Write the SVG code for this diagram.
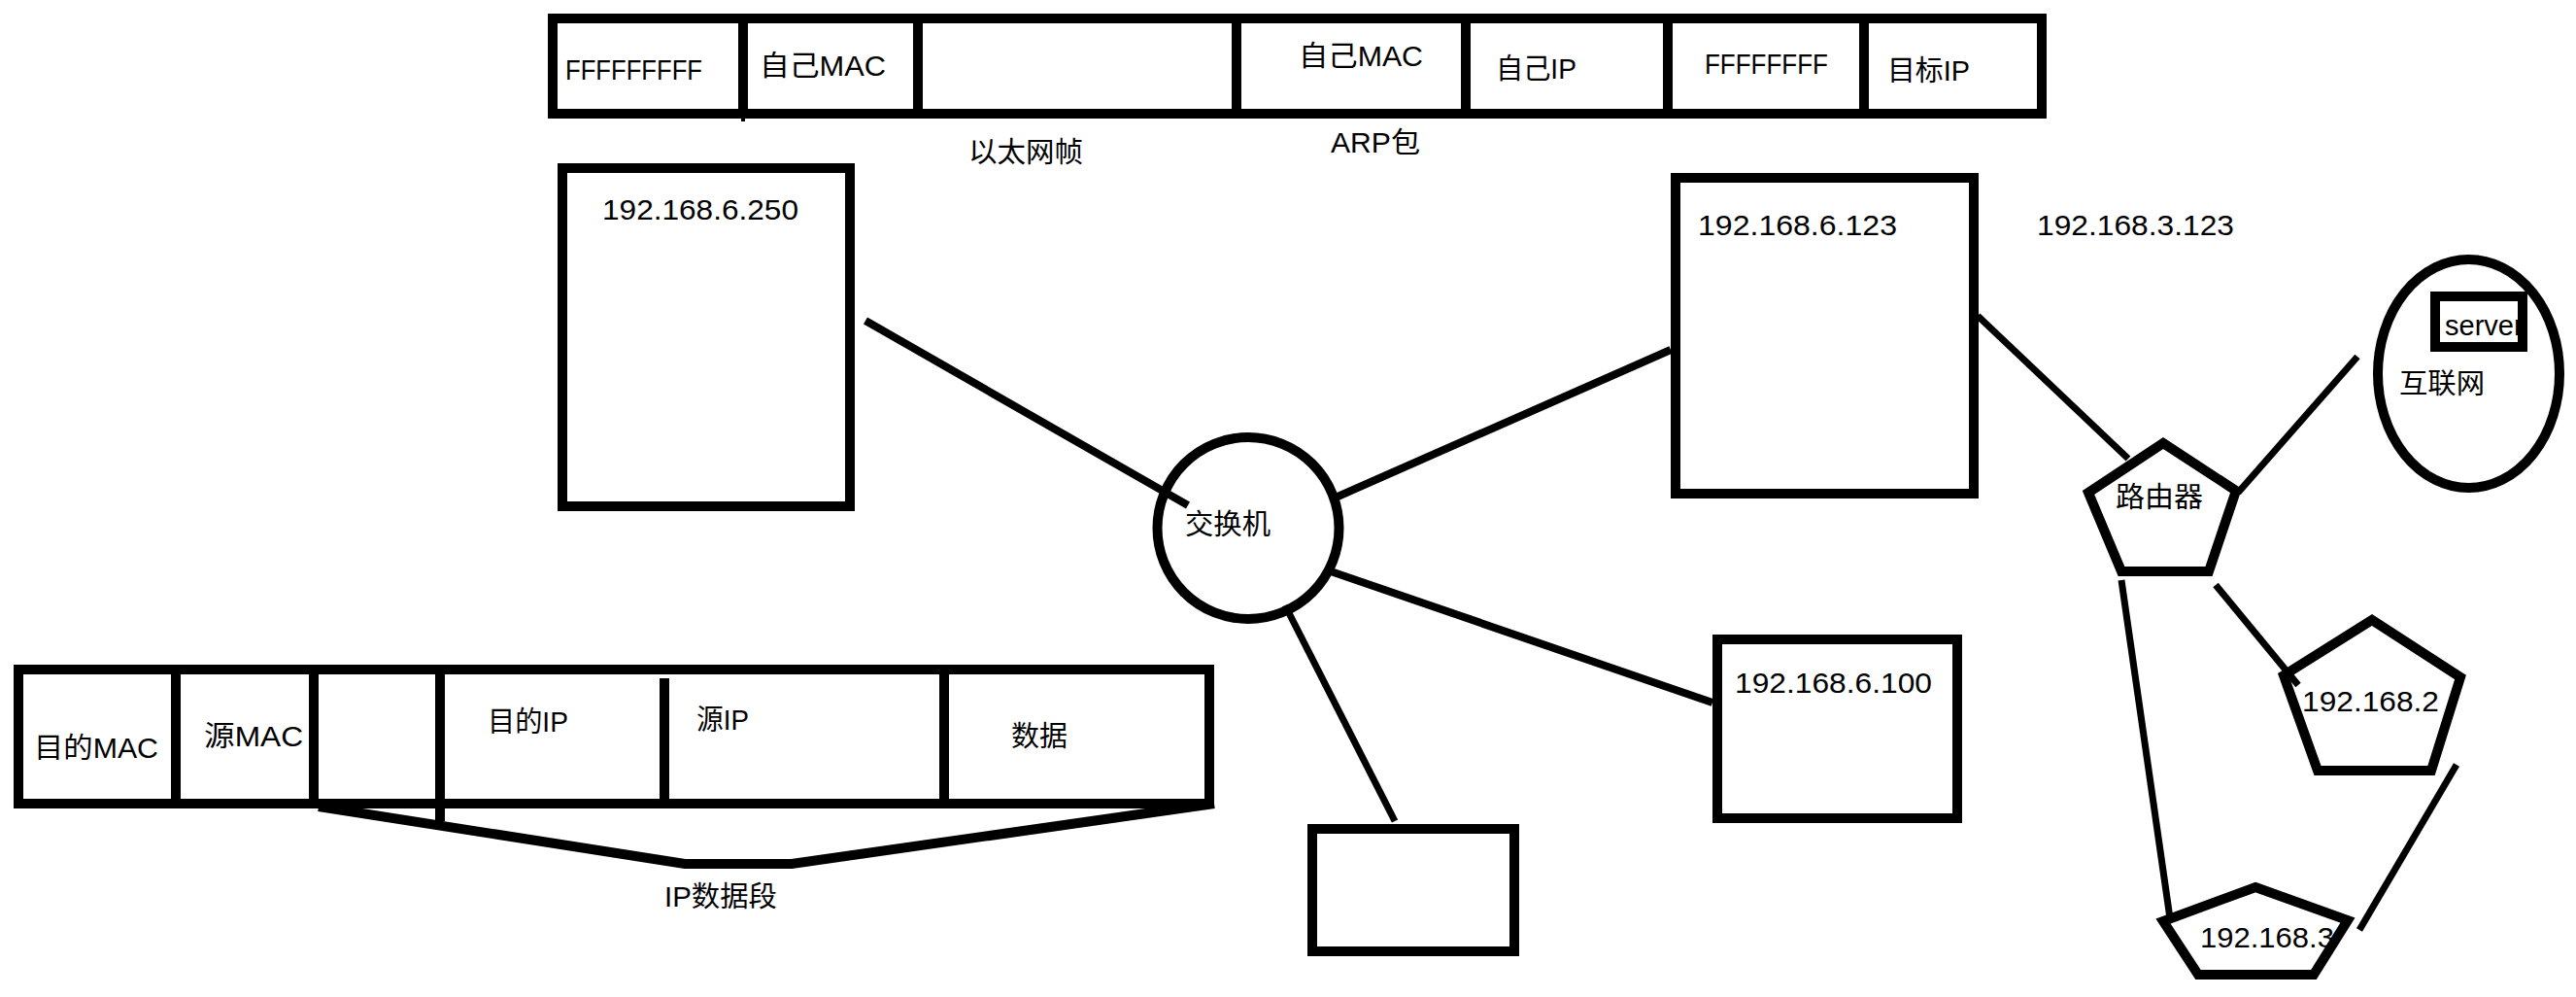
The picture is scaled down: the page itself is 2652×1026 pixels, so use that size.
<svg xmlns="http://www.w3.org/2000/svg" width="2652" height="1026" viewBox="0 0 2652 1026">
  <style>
    .box { fill: none; stroke: #000; stroke-width: 10; }
    .div { stroke: #000; stroke-width: 10; }
    .wire { fill: none; stroke: #000; stroke-width: 8; stroke-linecap: butt; }
    .thin { fill: none; stroke: #000; stroke-width: 7; stroke-linecap: butt; }
    .shape { fill: none; stroke: #000; stroke-width: 10; stroke-linejoin: miter; }
    text { font-family: "Liberation Sans", "Noto Sans CJK SC", sans-serif; font-size: 29px; fill: #000; }
    .num { font-size: 30px; }
  </style>
  <rect width="2652" height="1026" fill="#fff"/>

  <!-- Ethernet frame carrying an ARP packet -->
  <g id="arp-frame">
    <rect class="box" x="569" y="19" width="1533" height="98"/>
    <line class="div" x1="765" y1="14" x2="765" y2="122"/>
    <line x1="765" y1="118" x2="765" y2="125" stroke="#000" stroke-width="4"/>
    <line class="div" x1="945" y1="14" x2="945" y2="122"/>
    <line class="div" x1="1273" y1="14" x2="1273" y2="122"/>
    <line class="div" x1="1509" y1="14" x2="1509" y2="122"/>
    <line class="div" x1="1717" y1="14" x2="1717" y2="122"/>
    <line class="div" x1="1919" y1="14" x2="1919" y2="122"/>
    <text x="582" y="82" textLength="141" lengthAdjust="spacingAndGlyphs">FFFFFFFFF</text>
    <text x="782" y="78" textLength="130" lengthAdjust="spacingAndGlyphs">自己MAC</text>
    <text x="1337" y="68" textLength="128" lengthAdjust="spacingAndGlyphs">自己MAC</text>
    <text x="1540" y="81" textLength="83" lengthAdjust="spacingAndGlyphs">自己IP</text>
    <text x="1755" y="76" textLength="127" lengthAdjust="spacingAndGlyphs">FFFFFFFF</text>
    <text x="1943" y="83" textLength="85" lengthAdjust="spacingAndGlyphs">目标IP</text>
    <text x="997" y="167" textLength="118" lengthAdjust="spacingAndGlyphs">以太网帧</text>
    <text x="1370" y="157" textLength="92" lengthAdjust="spacingAndGlyphs">ARP包</text>
  </g>

  <!-- Ethernet frame with IP datagram -->
  <g id="ip-frame">
    <rect class="box" x="19" y="689" width="1226" height="138"/>
    <line class="div" x1="181" y1="684" x2="181" y2="832"/>
    <line class="div" x1="323" y1="684" x2="323" y2="832"/>
    <line class="div" x1="453" y1="684" x2="453" y2="845"/>
    <line class="div" x1="684" y1="698" x2="684" y2="832" stroke-width="8"/>
    <line class="div" x1="972" y1="684" x2="972" y2="832" stroke-width="9"/>
    <polyline class="shape" points="328,830 705,889 815,889 1250,827"/>
    <text x="35" y="780" textLength="128" lengthAdjust="spacingAndGlyphs">目的MAC</text>
    <text x="210" y="768" textLength="102" lengthAdjust="spacingAndGlyphs">源MAC</text>
    <text x="502" y="753" textLength="83" lengthAdjust="spacingAndGlyphs">目的IP</text>
    <text x="717" y="751" textLength="54" lengthAdjust="spacingAndGlyphs">源IP</text>
    <text x="1041" y="768" textLength="58" lengthAdjust="spacingAndGlyphs">数据</text>
    <text x="684" y="933" textLength="116" lengthAdjust="spacingAndGlyphs">IP数据段</text>
  </g>

  <!-- connectors -->
  <g id="connectors">
    <line class="wire" x1="891" y1="330" x2="1223" y2="520"/>
    <line class="wire" x1="1375" y1="512" x2="1720" y2="360"/>
    <line class="wire" x1="1370" y1="588" x2="1763" y2="723"/>
    <line class="thin" x1="1323" y1="623" x2="1436" y2="845"/>
    <line class="thin" x1="2036" y1="325" x2="2191" y2="472"/>
    <line class="thin" x1="2304" y1="507" x2="2427" y2="367"/>
    <line class="thin" x1="2184" y1="597" x2="2234" y2="945"/>
    <line class="thin" x1="2281" y1="602" x2="2366" y2="705"/>
    <line class="thin" x1="2529" y1="787" x2="2429" y2="957"/>
  </g>

  <g id="host-250">
    <rect class="box" x="579" y="173" width="296" height="348"/>
    <text class="num" x="620" y="226" textLength="202" lengthAdjust="spacingAndGlyphs">192.168.6.250</text>
  </g>

  <g id="switch">
    <circle class="shape" cx="1285" cy="543.5" r="93.5"/>
    <text x="1220" y="550" textLength="88" lengthAdjust="spacingAndGlyphs">交换机</text>
  </g>

  <g id="host-123">
    <rect class="box" x="1725" y="183" width="307" height="325"/>
    <text class="num" x="1748" y="242" textLength="205" lengthAdjust="spacingAndGlyphs">192.168.6.123</text>
  </g>

  <g id="label-3-123">
    <text class="num" x="2097" y="242" textLength="203" lengthAdjust="spacingAndGlyphs">192.168.3.123</text>
  </g>

  <g id="host-100">
    <rect class="box" x="1768" y="658" width="247" height="184"/>
    <text class="num" x="1786" y="713" textLength="203" lengthAdjust="spacingAndGlyphs">192.168.6.100</text>
  </g>

  <g id="host-blank">
    <rect class="box" x="1351" y="853" width="208" height="126"/>
  </g>

  <g id="router">
    <polygon class="shape" points="2227,456 2302,505 2274,588 2184,588 2150,507"/>
    <text x="2178" y="522" textLength="90" lengthAdjust="spacingAndGlyphs">路由器</text>
  </g>

  <g id="internet">
    <ellipse class="shape" cx="2541.5" cy="384.5" rx="93.5" ry="117.5"/>
    <text x="2517" y="345" font-size="30">server</text>
    <rect class="box" x="2507" y="305" width="90" height="52"/>
    <text x="2470" y="405" textLength="88" lengthAdjust="spacingAndGlyphs">互联网</text>
  </g>

  <g id="net-2">
    <text class="num" x="2370" y="732" textLength="141" lengthAdjust="spacingAndGlyphs">192.168.2</text>
    <polygon class="shape" points="2442,638 2533,697 2503,793 2386,793 2351,695"/>
  </g>

  <g id="net-3">
    <text class="num" x="2265" y="975" textLength="138" lengthAdjust="spacingAndGlyphs">192.168.3</text>
    <polygon class="shape" points="2322,913 2417,947 2382,1003 2263,1003 2227,948"/>
  </g>
</svg>
